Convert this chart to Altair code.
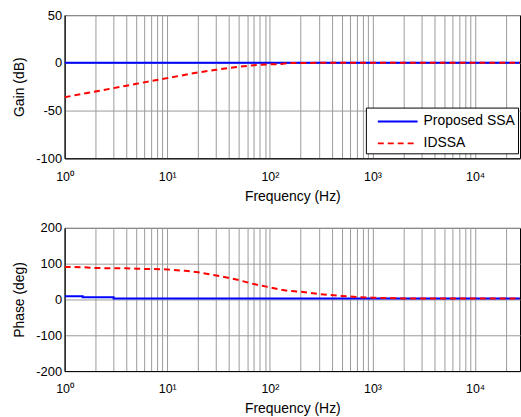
import altair as alt
import pandas as pd

series_names = ["Proposed SSA", "IDSSA"]
series_colors = ["#0000ff", "#ff0000"]

x_domain = [1, 27400]
freq_grid = [1, 2, 3, 4, 5, 6, 7, 8, 9,
             10, 20, 30, 40, 50, 60, 70, 80, 90,
             100, 200, 300, 400, 500, 600, 700, 800, 900,
             1000, 2000, 3000, 4000, 5000, 6000, 7000, 8000, 9000,
             10000, 20000]

gain_ticks = [50, 0, -50, -100]
phase_ticks = [200, 100, 0, -100, -200]

# Proposed SSA
ssa_gain_f = [1, 27400]
ssa_gain = [0, 0]
ssa_phase_f = [1, 1.5, 3, 27400]
ssa_phase = [9, 6, 3, 2.5]

# IDSSA
ids_f = [1, 1.5, 2, 3, 4, 5, 7, 10, 15, 20, 30, 40, 50, 70, 100, 130,
         150, 200, 300, 500, 700, 1000, 2000, 5000, 10000, 27400]
ids_gain = [-36, -32.5, -30, -26.5, -24, -22, -19, -16, -12.5, -10, -7.3,
            -5.3, -4, -2.5, -1.6, -1.2, -0.3, -0.1, 0, 0, 0, 0, 0, 0, 0, 0]
ids_phase = [91, 90, 88, 87, 87, 86, 85, 84, 80, 76, 67, 60, 54, 43, 34,
             27, 24, 22, 15, 10, 7, 5, 3, 2.5, 2.5, 2.5]

ssa_gain_df = pd.DataFrame({"f": ssa_gain_f, "v": ssa_gain, "series": series_names[0]})
ssa_phase_df = pd.DataFrame({"f": ssa_phase_f, "v": ssa_phase, "series": series_names[0]})
ids_gain_df = pd.DataFrame({"f": ids_f, "v": ids_gain, "series": series_names[1]})
ids_phase_df = pd.DataFrame({"f": ids_f, "v": ids_phase, "series": series_names[1]})

FONT = "Liberation Sans"
W, H = 458, 144

label_expr = ("datum.value == 1 ? '10⁰' : datum.value == 10 ? '10¹' : "
              "datum.value == 100 ? '10²' : datum.value == 1000 ? '10³' : "
              "datum.value == 10000 ? '10⁴' : ''")


def x_enc():
    return alt.X("f:Q",
                 scale=alt.Scale(type="log", domain=x_domain, nice=False),
                 axis=alt.Axis(values=freq_grid, labelExpr=label_expr,
                               title="Frequency (Hz)", ticks=False,
                               labelOverlap=False, labelPadding=12,
                               labelFontSize=12.5, titleFontSize=14,
                               titleFontWeight="normal", titleBaseline="middle",
                               titleY=38, labelFlush=False))


def y_enc(title, ticks, dom):
    return alt.Y("v:Q",
                 scale=alt.Scale(domain=dom, nice=False, zero=False),
                 axis=alt.Axis(values=ticks, title=title, ticks=False,
                               labelExpr="datum.value + ''",
                               labelFontSize=13, titleFontSize=14,
                               titleFontWeight="normal", labelPadding=3,
                               titleX=-45, titleY=H / 2, titleBaseline="middle",
                               labelFlush=False))


def make_legend():
    return alt.Legend(orient="none", legendX=303, legendY=93, title=None,
                      fillColor="white", strokeColor="black", padding=3,
                      symbolType="M-2,0H2", symbolSize=400, symbolStrokeWidth=2,
                      symbolOffset=18,
                      labelFontSize=14, labelFont=FONT, labelOffset=15,
                      rowPadding=4, cornerRadius=0, labelColor="black")


def color_enc(show):
    return alt.Color("series:N", scale=alt.Scale(domain=series_names, range=series_colors),
                     legend=make_legend() if show else None)


def dash_enc(show):
    return alt.StrokeDash("series:N",
                          scale=alt.Scale(domain=series_names, range=[[1, 0], [6, 4]]),
                          legend=make_legend() if show else None)


def panel(df_ssa, df_ids, title, ticks, dom, show_legend, interp_ssa):
    a = alt.Chart(df_ssa).mark_line(strokeWidth=2, interpolate=interp_ssa, clip=True).encode(
        x=x_enc(), y=y_enc(title, ticks, dom),
        color=color_enc(show_legend), strokeDash=dash_enc(show_legend))
    b = alt.Chart(df_ids).mark_line(strokeWidth=2, clip=True).encode(
        x=x_enc(), y=y_enc(title, ticks, dom),
        color=color_enc(show_legend), strokeDash=dash_enc(show_legend))
    return alt.layer(a, b).properties(width=W, height=H)


top = panel(ssa_gain_df, ids_gain_df, "Gain (dB)", gain_ticks, [-100, 50], True, "linear")
bottom = panel(ssa_phase_df, ids_phase_df, "Phase (deg)", phase_ticks, [-200, 200], False, "step-after")

chart = alt.vconcat(top, bottom, spacing=17).resolve_scale(
    color="independent", strokeDash="independent"
).properties(
    padding={"left": 12, "top": 7, "right": 0, "bottom": 0},
    background="white"
).configure_view(
    stroke="black", strokeWidth=1
).configure_axis(
    labelFont=FONT, titleFont=FONT, labelColor="black", titleColor="black",
    domainColor="black", gridColor="#9a9a9a", gridOpacity=1,
    gridWidth=1
)

chart.save("out.html", embed_options={"renderer": "svg", "actions": False})
